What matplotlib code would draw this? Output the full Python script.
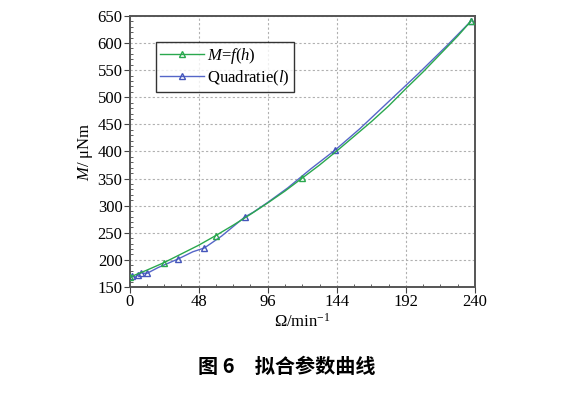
import matplotlib
matplotlib.use("Agg")
import matplotlib.pyplot as plt
from matplotlib.ticker import MultipleLocator

plt.rcParams['font.family'] = ['Liberation Serif', 'DejaVu Serif']
plt.rcParams['mathtext.fontset'] = 'custom'
plt.rcParams['mathtext.rm'] = 'Liberation Serif'
plt.rcParams['mathtext.it'] = 'Liberation Serif:italic'
plt.rcParams['mathtext.bf'] = 'Liberation Serif:bold'

# Fitted curve M = f(h)
fit_x = [0, 12, 24, 36, 48, 60, 72, 84, 96, 108, 120, 132, 144, 156, 168, 180, 192, 204, 216, 228, 237]
fit_m = [168, 181, 195, 211, 227, 245, 264, 284, 305, 327, 351, 375, 401, 428, 455, 484, 516, 547, 580, 613, 640]

# Quadratic data
quad_x = [0, 2, 4, 6, 8, 12, 20, 34, 44, 52, 64, 80, 86, 96, 110, 126, 143, 160, 180, 200, 220, 237]
quad_m = [166, 170, 168, 173, 176, 175, 186, 202, 215, 222, 244, 279, 288, 306, 333, 368, 403, 442, 492, 542, 594, 640]

fit_marker_idx = [0, 2, 5, 10, 20]
quad_marker_idx = [1, 3, 4, 5, 7, 9, 11, 16, 21]

x_ticks = [0, 48, 96, 144, 192, 240]
y_ticks = [150, 200, 250, 300, 350, 400, 450, 500, 550, 600, 650]

fig = plt.figure(figsize=(5.81, 3.98), dpi=100)
ax = fig.add_axes([0.2229, 0.2789, 0.5947, 0.681])

ax.plot(fit_x, fit_m, color='#2aa84e', lw=1.0, marker='^', markevery=fit_marker_idx,
        markersize=4.5, markerfacecolor='none', markeredgecolor='#2aa84e', label=r'$M$=$f$($h$)', zorder=3)
ax.plot(quad_x, quad_m, color='#5566c8', lw=1.0, marker='^', markevery=quad_marker_idx,
        markersize=4.5, markerfacecolor='none', markeredgecolor='#4455bb', label=r'Quadratie($l$)', zorder=2)

ax.set_xlim(0, 240)
ax.set_ylim(150, 650)
ax.set_xticks(x_ticks)
ax.set_yticks(y_ticks)
ax.xaxis.set_minor_locator(MultipleLocator(12))
ax.yaxis.set_minor_locator(MultipleLocator(10))
ax.tick_params(which='major', direction='out', length=4, width=0.8, labelsize=12, color='#444444', pad=1)
ax.tick_params(which='minor', direction='in', length=2.5, width=0.6, color='#444444')
ax.grid(True, which='major', linestyle=(0, (2, 2)), color='#b0b0b0', lw=0.8)
for s in ax.spines.values():
    s.set_color('#555555')
    s.set_linewidth(1.4)

ax.set_xlabel(r'$\mathit{Ω}$/min$^{-1}$', fontsize=12, labelpad=2)
ax.set_ylabel(r'$M$/ μNm', fontsize=12, labelpad=2)

leg = ax.legend(loc='upper left', bbox_to_anchor=(0.077, 0.904), fontsize=12, frameon=True,
                fancybox=False, edgecolor='black', handlelength=2.6, handletextpad=0.2,
                borderpad=0.25, labelspacing=0.15, borderaxespad=0)
leg.get_frame().set_linewidth(1.0)

fig.text(0.493, 0.08, '图 6\u3000拟合参数曲线', ha='center', va='center', fontsize=14.5,
         family=['Noto Sans CJK SC', 'DejaVu Sans'], weight='bold')

fig.savefig('out.png', dpi=100)
